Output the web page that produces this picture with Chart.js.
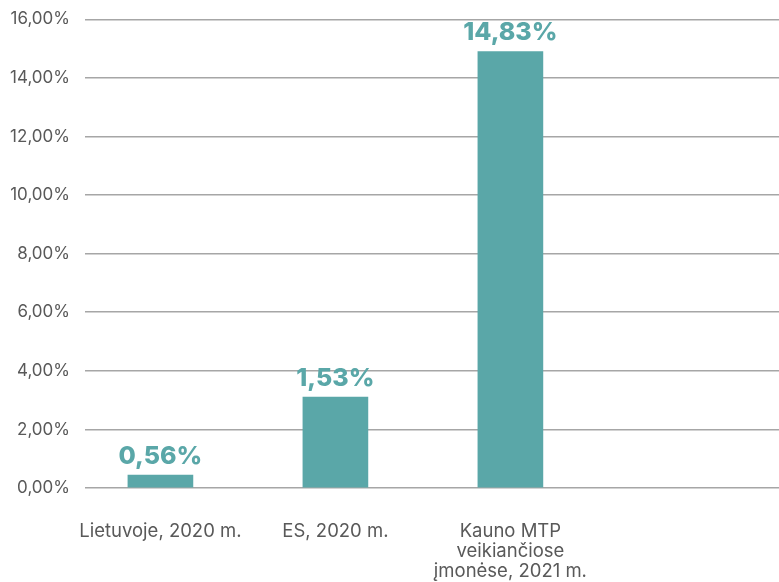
<!DOCTYPE html>
<html>
<head>
<meta charset="utf-8">
<script src="https://cdn.jsdelivr.net/npm/chart.js@4.4.0/dist/chart.umd.min.js"></script>
<style>
  html, body { margin: 0; padding: 0; background: #fff; }
  #wrap { position: relative; width: 779px; height: 582px; }
</style>
</head>
<body>
<div id="wrap"><canvas id="c"></canvas></div>
<script>
// categories (multi-line labels as arrays)
const categories = [
  ['Lietuvoje, 2020 m.'],
  ['ES, 2020 m.'],
  ['Kauno MTP', 'veikiančiose', 'įmonėse, 2021 m.']
];
// bar heights (percent)
const barValues = [0.44, 3.1, 14.9];
// texts printed above each bar
const valueLabels = ['0,56%', '1,53%', '14,83%'];
const yTicks = [0, 2, 4, 6, 8, 10, 12, 14, 16];

const TEAL = '#5aa7a8';
const TEXT = '#595959';
const FONT = 'Inter, "Noto Sans", sans-serif';

const valueLabelPlugin = {
  id: 'valueLabels',
  afterDatasetsDraw(chart) {
    const ctx = chart.ctx;
    const meta = chart.getDatasetMeta(0);
    ctx.save();
    ctx.fillStyle = TEAL;
    ctx.font = `800 25px ${FONT}`;
    ctx.textAlign = 'center';
    ctx.textBaseline = 'alphabetic';
    meta.data.forEach((bar, i) => {
      ctx.fillText(valueLabels[i], bar.x, bar.y - 11);
    });
    ctx.restore();
  }
};

new Chart(document.getElementById('c'), {
  type: 'bar',
  data: {
    datasets: [{
      data: barValues.map((v, i) => ({ x: i, y: v })),
      backgroundColor: TEAL,
      borderWidth: 0,
      barThickness: 65,
    }]
  },
  options: {
    responsive: true,
    maintainAspectRatio: false,
    animation: false,
    layout: { padding: { top: 19, right: 0, left: 0, bottom: 0 } },
    plugins: { legend: { display: false }, tooltip: { enabled: false } },
    scales: {
      x: {
        type: 'linear',
        offset: false,
        min: -0.431,
        max: 3.535,
        grid: { display: false },
        border: { display: false },
        afterBuildTicks: s => { s.ticks = categories.map((c, i) => ({ value: i })); },
        afterFit: s => { s.height = 94; },
        ticks: {
          padding: 25,
          maxRotation: 0,
          autoSkip: false,
          color: TEXT,
          font: { family: FONT, size: 18.5, lineHeight: '20px' },
          callback: v => categories[v] || '',
        },
      },
      y: {
        min: 0,
        max: 16,
        afterBuildTicks: s => { s.ticks = yTicks.map(v => ({ value: v })); },
        afterFit: s => { s.width = 85; },
        grid: { color: '#a6a6a6', lineWidth: 1.5, drawTicks: false },
        border: { display: false },
        ticks: {
          padding: 15,
          color: TEXT,
          font: { family: FONT, size: 17, lineHeight: 0.5 },
          callback: v => v.toFixed(2).replace('.', ',') + '%',
        },
      },
    },
  },
  plugins: [valueLabelPlugin],
});
</script>
</body>
</html>
